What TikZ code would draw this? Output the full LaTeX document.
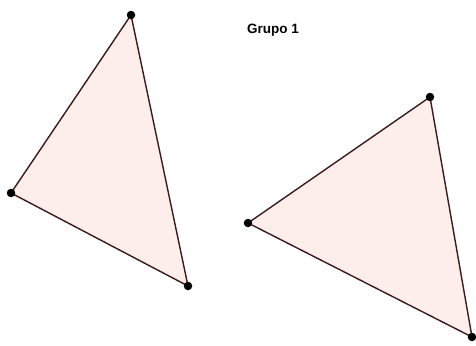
\documentclass[tikz,border=0pt]{standalone}
\usepackage{fontspec}
\setmainfont{Liberation Sans}
\usepackage{tikz}
\definecolor{trifill}{HTML}{FDEEEC}
\definecolor{triedge}{HTML}{3A1A1A}

\begin{document}
\begin{tikzpicture}[
x=1pt,y=-1pt,
every node/.style={font=\bfseries\fontsize{13.5}{15}\selectfont},
tri/.style={draw=triedge,fill=trifill,line width=1.4pt,line join=round},
dot/.style={circle,fill=black,inner sep=0pt,minimum size=8.5pt}
]
\useasboundingbox (0,0) rectangle (476,345);
% first triangle
\coordinate (a1) at (131,15);
\coordinate (a2) at (11,193);
\coordinate (a3) at (188,286);
% second triangle
\coordinate (b1) at (430,97);
\coordinate (b2) at (248,223);
\coordinate (b3) at (472,337);

\filldraw[tri] (a1) -- (a2) -- (a3) -- cycle;
\filldraw[tri] (b1) -- (b2) -- (b3) -- cycle;
\foreach \p in {a1,a2,a3,b1,b2,b3}
  \node[dot] at (\p) {};

\node (title) at (273,30) {Grupo 1};
\end{tikzpicture}
\end{document}
